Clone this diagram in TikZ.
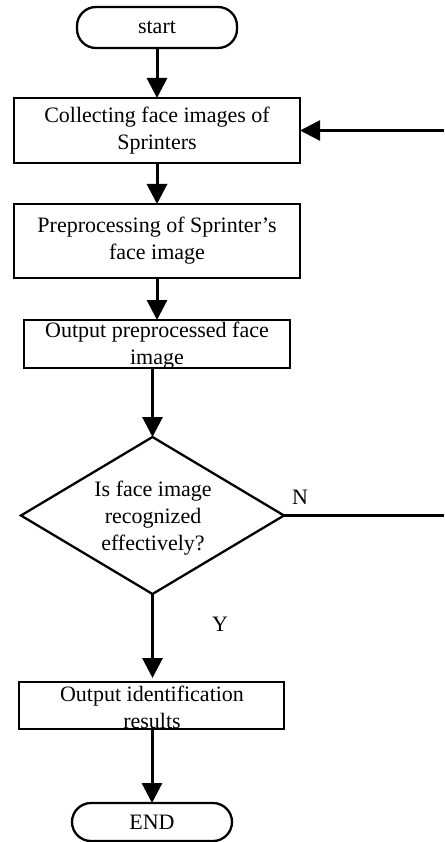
\documentclass[tikz,border=0pt]{standalone}
\usepackage{fontspec}
\setmainfont{Liberation Serif}
\usetikzlibrary{shapes.geometric,arrows.meta}
\begin{document}
\begin{tikzpicture}[x=1pt,y=-1pt,
  every node/.style={inner sep=0pt,outer sep=0pt,font=\fontsize{22}{27}\selectfont},
  term/.style={draw,line width=2.3pt,rounded corners=19pt,minimum width=160pt},
  proc/.style={draw,line width=2.3pt,align=center},
  deci/.style={draw,line width=2.3pt,diamond,minimum width=263pt,minimum height=157pt},
  txt/.style={align=center},
  flow/.style={line width=3pt,-{Triangle[length=20pt,width=20pt]}},
  plain/.style={line width=2.5pt}]
\useasboundingbox (0,0) rectangle (444,842);
\node[term,minimum height=41pt] (start) at (157,27.5) {start};
\node[proc,minimum width=286pt,minimum height=65pt] (b1) at (157,130.5) {Collecting face images of\\Sprinters};
\node[proc,minimum width=286pt,minimum height=74pt] (b2) at (157,241) {Preprocessing of Sprinter's\\face image};
\node[proc,minimum width=266pt,minimum height=48pt] (b3) at (157,344) {};
\node[txt] (t3) at (157,346) {Output preprocessed face\\image};
\node[deci] (d) at (152.5,515.5) {};
\node[txt] (td) at (153,518) {Is face image\\recognized\\effectively?};
\node[proc,minimum width=265pt,minimum height=47pt] (b4) at (151.5,705.5) {};
\node[txt] (t4) at (152,707) {Output identification\\results};
\node[term,minimum height=38pt] (end) at (152,822) {END};
\node (nl) at (300,497) {N};
\node (yl) at (220,624) {Y};
\coordinate (nE) at (444,515.5);
\coordinate (cE) at (444,130.5);
\draw[flow] (start) -- (b1);
\draw[flow] (b1) -- (b2);
\draw[flow] (b2) -- (b3);
\draw[flow] (d.north |- b3.south) -- (d.north);
\draw[flow,shorten >=4pt] (d.south) -- (d.south |- b4.north);
\draw[flow] (b4.south -| end.north) -- (end.north);
\draw[plain] (d.east) -- (nE);
\draw[flow,line width=2.5pt] (cE) -- (b1.east);
\end{tikzpicture}
\end{document}
